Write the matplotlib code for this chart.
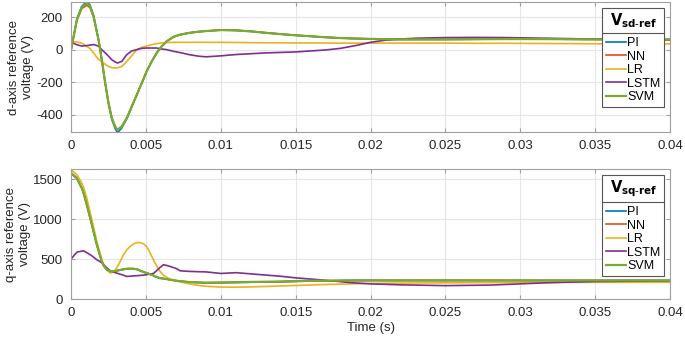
import numpy as np
import matplotlib
matplotlib.use("Agg")
from matplotlib import pyplot as plt
from matplotlib.lines import Line2D

plt.rcParams['font.family'] = ['Liberation Sans', 'DejaVu Sans']
plt.rcParams['axes.unicode_minus'] = False

# time axis (ms) for the d-axis traces
t_d = [0, 0.38, 0.7, 1.04, 1.25, 1.49, 1.82, 2.04, 2.27, 2.49, 2.71, 2.93, 3.09, 3.38,
       3.71, 4.04, 4.38, 4.71, 5.04, 5.38, 5.71, 6.04, 6.38, 6.82, 7.27, 7.9, 8.5,
       9.0, 10, 11, 12, 13, 14, 15, 16, 17, 18, 19, 20, 21, 22, 23, 24, 25, 27, 29,
       31, 33, 35, 37, 40]

vd_pi = [5, 190, 265, 295, 275, 210, 64, -62, -207, -332, -428, -482, -510, -480,
         -425, -352, -278, -206, -133, -72, -20, 20, 51, 78, 92, 103, 110,
         114, 120, 118, 112, 103, 95, 88, 82, 76, 71, 68, 66, 64, 63, 63, 63, 63, 64, 65,
         65, 64, 63, 62, 62]
vd_nn = [5, 180, 252, 272, 258, 200, 60, -62, -203, -326, -418, -468, -492, -468,
         -418, -348, -276, -205, -133, -72, -20, 20, 51, 78, 92, 103, 110,
         114, 121, 119, 113, 104, 96, 88, 82, 76, 71, 68, 66, 64, 63, 63, 63, 63, 64, 65,
         65, 64, 63, 62, 62]
vd_lr = [50, 47, 40, 20, 8, -20, -60, -72, -90, -103, -110, -113, -112, -103,
         -72, -38, 0, 14, 22, 31, 37, 41, 43, 45, 45, 45, 45,
         45, 45, 44, 43, 42, 42, 41, 41, 41, 40, 40, 40, 40, 40, 40, 40, 40, 39, 39,
         38, 37, 36, 35, 35]
vd_lstm = [45, 30, 22, 25, 28, 31, 22, 0, -20, -40, -62, -75, -82, -72,
           -31, -8, 0, 8, 10, 10, 10, 4, 0, -10, -18, -31, -40,
           -44, -38, -30, -25, -20, -17, -14, -8, -2, 8, 25, 45, 58, 65, 70, 72, 74, 75, 74,
           71, 68, 65, 63, 60]
vd_svm = [5, 185, 260, 283, 268, 205, 62, -62, -205, -328, -420, -472, -492, -472,
          -420, -349, -277, -205, -133, -72, -20, 20, 51, 78, 92, 103, 110,
          114, 120, 118, 112, 103, 95, 88, 82, 76, 71, 68, 66, 64, 63, 63, 63, 63, 64, 65,
          65, 64, 63, 62, 62]

# time axis (ms) for the q-axis traces
t_q = [0, 0.38, 0.71, 0.82, 1.04, 1.27, 1.38, 1.71, 2.04, 2.16, 2.38, 2.6, 2.82, 3.04,
       3.16, 3.49, 3.71, 3.93, 4.16, 4.38, 4.49, 4.6, 4.82, 5.04, 5.16, 5.49, 5.6, 5.93,
       6.16, 6.38, 6.6, 7.04, 7.27, 7.9, 8.5, 9, 10, 11, 12, 13, 14, 15, 16, 17, 18.7,
       20, 22, 25, 28, 30, 32, 35, 40]

vq_pi = [1570, 1510, 1385, 1330, 1180, 1010, 930, 680, 470, 420, 367, 346, 348, 354,
         360, 372, 379, 380, 379, 372, 366, 354, 340, 325, 318, 295, 283, 262,
         256, 250, 242, 229, 224, 212, 207, 204, 205, 208, 211, 214, 217, 222, 225, 228, 232,
         233, 233, 233, 233, 232, 232, 232, 232]
vq_nn = [1568, 1508, 1383, 1328, 1178, 1008, 928, 678, 470, 420, 367, 346, 348, 354,
         360, 372, 379, 380, 379, 372, 366, 354, 340, 325, 318, 295, 283, 262,
         256, 250, 242, 229, 224, 212, 207, 204, 205, 208, 211, 214, 217, 222, 225, 228, 232,
         233, 233, 233, 233, 232, 232, 232, 232]
vq_lr = [1617, 1554, 1450, 1400, 1262, 1080, 992, 721, 492, 440, 367, 325, 337, 390,
         429, 554, 615, 658, 690, 705, 708, 705, 692, 655, 617, 492, 450, 346,
         300, 271, 250, 229, 215, 190, 170, 160, 150, 148, 152, 158, 164, 170, 176, 182, 190,
         195, 200, 203, 206, 208, 209, 210, 210]
vq_lstm = [504, 587, 600, 604, 580, 554, 540, 492, 455, 429, 390, 354, 338, 325,
           318, 298, 283, 285, 290, 292, 294, 295, 300, 304, 310, 320, 337, 395,
           429, 420, 408, 380, 354, 346, 342, 340, 320, 330, 315, 300, 285, 265, 250, 235, 205,
           190, 178, 168, 175, 190, 205, 220, 228]
vq_svm = [1575, 1512, 1387, 1330, 1179, 1010, 929, 679, 470, 420, 367, 346, 348, 354,
          360, 372, 379, 380, 379, 372, 366, 354, 340, 325, 318, 295, 283, 262,
          256, 250, 242, 229, 224, 212, 207, 204, 208, 211, 214, 217, 219, 225, 228, 230, 233,
          233, 233, 233, 233, 233, 233, 233, 233]

names = ['PI', 'NN', 'LR', 'LSTM', 'SVM']
colors = ['#0072BD', '#D95319', '#EDB120', '#7E2F8E', '#77AC30']

fig = plt.figure(figsize=(6.85, 3.41), dpi=100)
ax1 = fig.add_axes([0.104, 0.613, 0.874, 0.381])
ax2 = fig.add_axes([0.104, 0.123, 0.874, 0.381])

td = np.array(t_d) / 1000.0
tq = np.array(t_q) / 1000.0
for y, c, n in zip([vd_pi, vd_nn, vd_lr, vd_lstm, vd_svm], colors, names):
    ax1.plot(td, y, color=c, lw=1.6 if n == 'SVM' else 1.2, label=n)
for y, c, n in zip([vq_pi, vq_nn, vq_lr, vq_lstm, vq_svm], colors, names):
    ax2.plot(tq, y, color=c, lw=1.6 if n == 'SVM' else 1.2, label=n)

ax1.set_ylim(-505, 292)
ax1.set_yticks([-400, -200, 0, 200])
ax2.set_ylim(0, 1625)
ax2.set_yticks([0, 500, 1000, 1500])

for ax in (ax1, ax2):
    ax.set_xlim(0, 0.04)
    ax.set_xticks([0, 0.005, 0.01, 0.015, 0.02, 0.025, 0.03, 0.035, 0.04])
    ax.set_xticklabels(['0', '0.005', '0.01', '0.015', '0.02', '0.025', '0.03', '0.035', '0.04'])
    ax.grid(True, color='#e6e6e6', lw=0.8)
    ax.set_axisbelow(True)
    for s in ax.spines.values():
        s.set_color('#a0a0a0')
    ax.tick_params(direction='in', top=True, right=True, length=3, color='#a0a0a0',
                   labelsize=9.5, labelcolor='#262626', pad=6)

ax1.set_ylabel('d-axis reference\nvoltage (V)', fontsize=9.5, color='#262626', labelpad=2)
ax2.set_ylabel('q-axis reference\nvoltage (V)', fontsize=9.5, color='#262626', labelpad=2)
ax2.set_xlabel('Time (s)', fontsize=9.5, color='#262626', labelpad=2)

legs = []
for ax, title in [(ax1, r'$\mathbf{V}_{\mathbf{sd\text{-}ref}}$'), (ax2, r'$\mathbf{V}_{\mathbf{sq\text{-}ref}}$')]:
    leg = ax.legend(loc='upper right', title=title, fontsize=9, title_fontsize=10.5,
                    handlelength=1.6, handletextpad=0.1, labelspacing=0.12,
                    borderpad=0.3, fancybox=False, framealpha=1, edgecolor='#555555',
                    borderaxespad=0.45)
    leg.get_frame().set_linewidth(0.8)
    leg._legend_box.sep = 5
    legs.append(leg)

# line under legend title, MATLAB style
fig.canvas.draw()
inv = fig.transFigure.inverted()
for leg in legs:
    fb = leg.get_frame().get_window_extent()
    tb = leg.get_title().get_window_extent()
    y = tb.y0 - 3
    (x0, yy), (x1, _) = inv.transform([(fb.x0, y), (fb.x1, y)])
    fig.add_artist(Line2D([x0, x1], [yy, yy], color='#555555', lw=0.8,
                          transform=fig.transFigure))

fig.savefig('out.png', dpi=100)
